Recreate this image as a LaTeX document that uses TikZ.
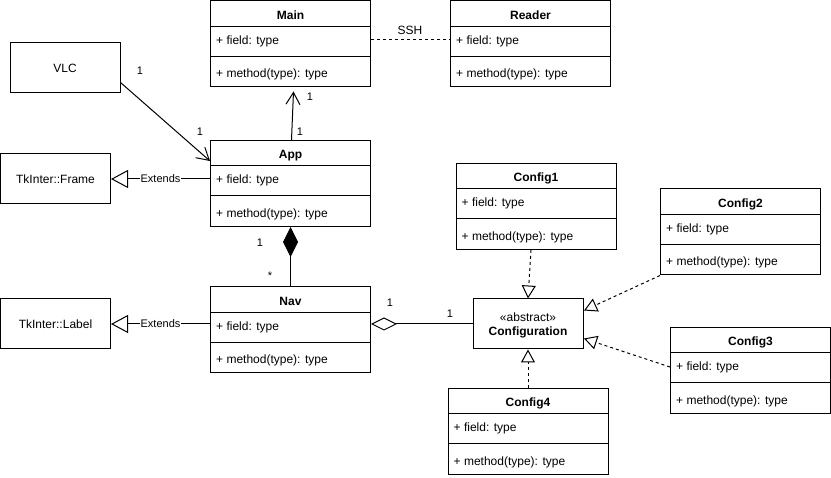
\documentclass[tikz,border=0pt]{standalone}
\usepackage{fontspec}
\setmainfont{Liberation Sans}
\usetikzlibrary{arrows.meta,calc}

\tikzset{
  box/.style={draw, line width=1pt, inner sep=0pt, fill=white,
    font=\fontsize{12}{14}\selectfont},
  member/.style={anchor=base west, inner sep=0pt, font=\fontsize{12}{14}\selectfont},
  classname/.style={anchor=base, inner sep=0pt, font=\fontsize{12}{14}\selectfont\bfseries},
  mult/.style={inner sep=0pt, font=\fontsize{11}{13}\selectfont},
  edgeline/.style={line width=1pt},
  dotted link/.style={edgeline, dash pattern=on 3pt off 3pt},
  assoc/.style={edgeline, -{Straight Barb[length=12pt,width=14pt]}},
  inherit/.style={edgeline, -{Triangle[open,length=17pt,width=18pt]}},
  realize/.style={dotted link, -{Triangle[open,length=13pt,width=14pt]}},
  compose/.style={edgeline, -{Diamond[length=30pt,width=15pt]}},
  aggregate/.style={edgeline, -{Diamond[open,length=26pt,width=13pt]}},
}

% UML class box: name, left x, top y, title
\newcommand{\umlclass}[4]{%
  \node[box, anchor=north west, minimum width=160pt, minimum height=86pt] (#1) at (#2,#3) {};
  \draw[edgeline] ($(#1.north west)+(0,26)$) -- ($(#1.north east)+(0,26)$);
  \draw[edgeline] ($(#1.north west)+(0,56)$) -- ($(#1.north east)+(0,56)$);
  \node[classname] (#1-name) at ($(#1.north)+(0,19)$) {#4};
  \node[member] (#1-field) at ($(#1.north west)+(6,44)$) {+ field: type};
  \node[member] (#1-method) at ($(#1.north west)+(6,77.5)$) {+ method(type): type};
}

\begin{document}
\begin{tikzpicture}[x=1pt, y=-1pt]
  \useasboundingbox (0,0) rectangle (831,478);

  % classes
  \umlclass{main}{210}{0.5}{Main}
  \umlclass{reader}{450}{0.5}{Reader}
  \umlclass{app}{210}{140}{App}
  \umlclass{nav}{210}{286.5}{Nav}
  \umlclass{c1}{455.5}{163}{Config1}
  \umlclass{c2}{660}{188.5}{Config2}
  \umlclass{c3}{670}{327}{Config3}
  \umlclass{c4}{447.5}{388}{Config4}

  % plain boxes
  \node[box, minimum width=110pt, minimum height=50pt] (vlc) at (65,68) {VLC};
  \node[box, minimum width=110pt, minimum height=50pt] (frame) at (55.5,179) {TkInter::Frame};
  \node[box, minimum width=110pt, minimum height=50pt] (label) at (55.5,324) {TkInter::Label};
  \node[box, minimum width=110pt, minimum height=50pt] (conf) at (528,324) {};
  \node[anchor=base, inner sep=0pt, font=\fontsize{12}{14}\selectfont] (conf-stereo)
    at ($(conf.north)+(0,22.7)$) {«abstract»};
  \node[classname] (conf-name) at ($(conf.north)+(0,37)$) {Configuration};

  % Main -- Reader
  \draw[dotted link] ($(main.north east)+(0,39)$) -- ($(reader.north west)+(0,39)$);
  \node[inner sep=0pt, font=\fontsize{12}{14}\selectfont] (ssh) at (410,30) {SSH};

  % associations
  \draw[assoc] ($(vlc.south east)+(0,-11)$) -- ($(app.north west)+(0,21)$);
  \node[mult] (m-vlc) at (140,71) {1};
  \node[mult] (m-appv) at (200,132) {1};

  \draw[assoc] ($(app.north)+(1,0)$) -- ($(main.south)+(3,4)$);
  \node[mult] (m-main) at (310,97) {1};
  \node[mult] (m-appm) at (300,132) {1};

  % inheritance
  \draw[inherit] (app.west |- frame.east) -- node[mult, fill=white, inner xsep=1pt, inner ysep=0pt] (ext1) {Extends} (frame.east);
  \draw[inherit] (nav.west |- label.east) -- node[mult, fill=white, inner xsep=1pt, inner ysep=0pt] (ext2) {Extends} (label.east);

  % composition App <>-- Nav
  \draw[compose] (nav.north) -- (app.south);
  \node[mult] (m-app) at (260,243) {1};
  \node[mult] (m-nav) at (270,275.5) {*};

  % aggregation Nav <>-- Configuration
  \draw[aggregate] (conf.west) -- (nav.east |- conf.west);
  \node[mult] (m-navc) at (390,303) {1};
  \node[mult] (m-conf) at (450,314) {1};

  % realizations
  \draw[realize] ($(c1.south)+(-5,0)$) -- (conf.north);
  \draw[realize] (c2.south west) -- ($(conf.north east)+(0.5,12)$);
  \draw[realize] ($(c3.north west)+(0,40)$) -- ($(conf.south east)+(0.5,-11)$);
  \draw[realize] (c4.north) -- (conf.south);
\end{tikzpicture}
\end{document}
